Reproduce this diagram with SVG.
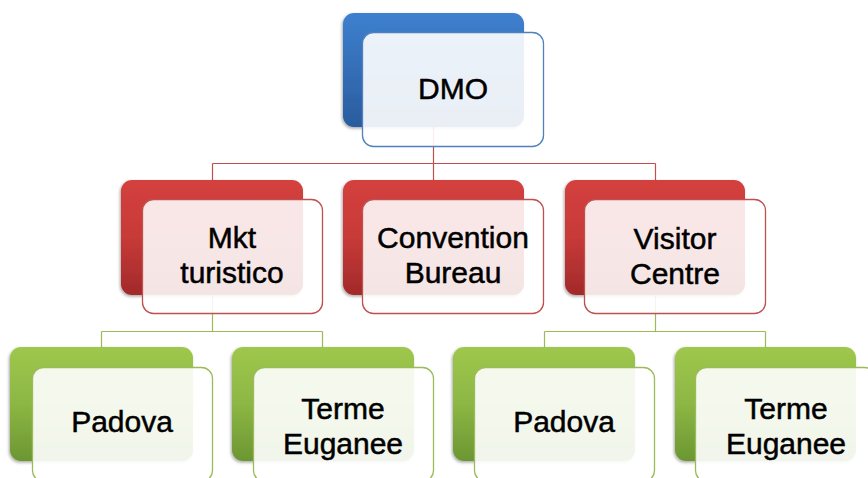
<svg xmlns="http://www.w3.org/2000/svg" width="868" height="478" viewBox="0 0 868 478">
<defs>
<linearGradient id="gB" x1="0" y1="0" x2="0" y2="1"><stop offset="0" stop-color="#3e80cf"/><stop offset="1" stop-color="#2a5c9e"/></linearGradient>
<linearGradient id="gR" x1="0" y1="0" x2="0" y2="1"><stop offset="0" stop-color="#d4403e"/><stop offset="0.5" stop-color="#c73a38"/><stop offset="1" stop-color="#a2292a"/></linearGradient>
<linearGradient id="gG" x1="0" y1="0" x2="0" y2="1"><stop offset="0" stop-color="#9fc74d"/><stop offset="0.5" stop-color="#8cb744"/><stop offset="1" stop-color="#6c9632"/></linearGradient>
<filter id="sh" x="-10%" y="-10%" width="120%" height="125%"><feDropShadow dx="-1" dy="1.5" stdDeviation="1.5" flood-color="#000" flood-opacity="0.35"/></filter>
</defs>
<style>
.lr{fill:none;stroke:#c0504d;stroke-width:1.2}
.lg{fill:none;stroke:#9bbb59;stroke-width:1.2}
.back{filter:url(#sh)}
.fb{fill:#ffffff;fill-opacity:0.9;stroke:#4f81bd;stroke-width:1.3}
.fr{fill:#ffffff;fill-opacity:0.88;stroke:#c0504d;stroke-width:1.3}
.fg{fill:#ffffff;fill-opacity:0.9;stroke:#9bbb59;stroke-width:1.3}
text{font-family:"Liberation Sans",Arial,sans-serif;font-size:30px;fill:#000;stroke:#000;stroke-width:0.5;text-anchor:middle}
</style>
<rect width="868" height="478" fill="#ffffff"/>
<g id="connectors">
<path class="lr" d="M433.5,127 V163.5 M212.5,163.5 H655.5 M212.5,163.5 V180 M433.5,163.5 V180 M655.5,163.5 V180"/>
<path class="lg" d="M212.5,295 V331.5 M101.5,331.5 H322.5 M101.5,331.5 V347 M322.5,331.5 V347"/>
<path class="lg" d="M655.5,295 V331.5 M544.5,331.5 H765.5 M544.5,331.5 V347 M765.5,331.5 V347"/>
</g>
<g id="dmo">
<rect class="back" x="343" y="13" width="181" height="114" rx="11" fill="url(#gB)"/>
<rect class="fb" x="362.5" y="32.5" width="181" height="114" rx="11"/>
<text x="453" y="99">DMO</text>
</g>
<g id="mkt">
<rect class="back" x="121" y="180" width="182" height="115" rx="11" fill="url(#gR)"/>
<rect class="fr" x="142.5" y="199.5" width="180" height="114" rx="11"/>
<text x="232" y="248">Mkt</text>
<text x="232" y="283">turistico</text>
</g>
<g id="convention">
<rect class="back" x="343" y="180" width="181" height="115" rx="11" fill="url(#gR)"/>
<rect class="fr" x="362.5" y="199.5" width="181" height="114" rx="11"/>
<text x="453" y="248">Convention</text>
<text x="453" y="283">Bureau</text>
</g>
<g id="visitor">
<rect class="back" x="565" y="180" width="180" height="115" rx="11" fill="url(#gR)"/>
<rect class="fr" x="584.5" y="199.5" width="181" height="114" rx="11"/>
<text x="675" y="249">Visitor</text>
<text x="675" y="284">Centre</text>
</g>
<g id="padova1">
<rect class="back" x="10" y="347" width="183" height="114" rx="11" fill="url(#gG)"/>
<rect class="fg" x="32.5" y="367.5" width="180" height="114" rx="11"/>
<text x="122" y="432">Padova</text>
</g>
<g id="terme1">
<rect class="back" x="232" y="347" width="182" height="114" rx="11" fill="url(#gG)"/>
<rect class="fg" x="253.5" y="367.5" width="180" height="114" rx="11"/>
<text x="343" y="419">Terme</text>
<text x="343" y="454">Euganee</text>
</g>
<g id="padova2">
<rect class="back" x="453" y="347" width="182" height="114" rx="11" fill="url(#gG)"/>
<rect class="fg" x="474.5" y="367.5" width="180" height="114" rx="11"/>
<text x="564" y="432">Padova</text>
</g>
<g id="terme2">
<rect class="back" x="675" y="347" width="181" height="114" rx="11" fill="url(#gG)"/>
<rect class="fg" x="695.5" y="367.5" width="180" height="114" rx="11"/>
<text x="786" y="419">Terme</text>
<text x="786" y="454">Euganee</text>
</g>
</svg>
